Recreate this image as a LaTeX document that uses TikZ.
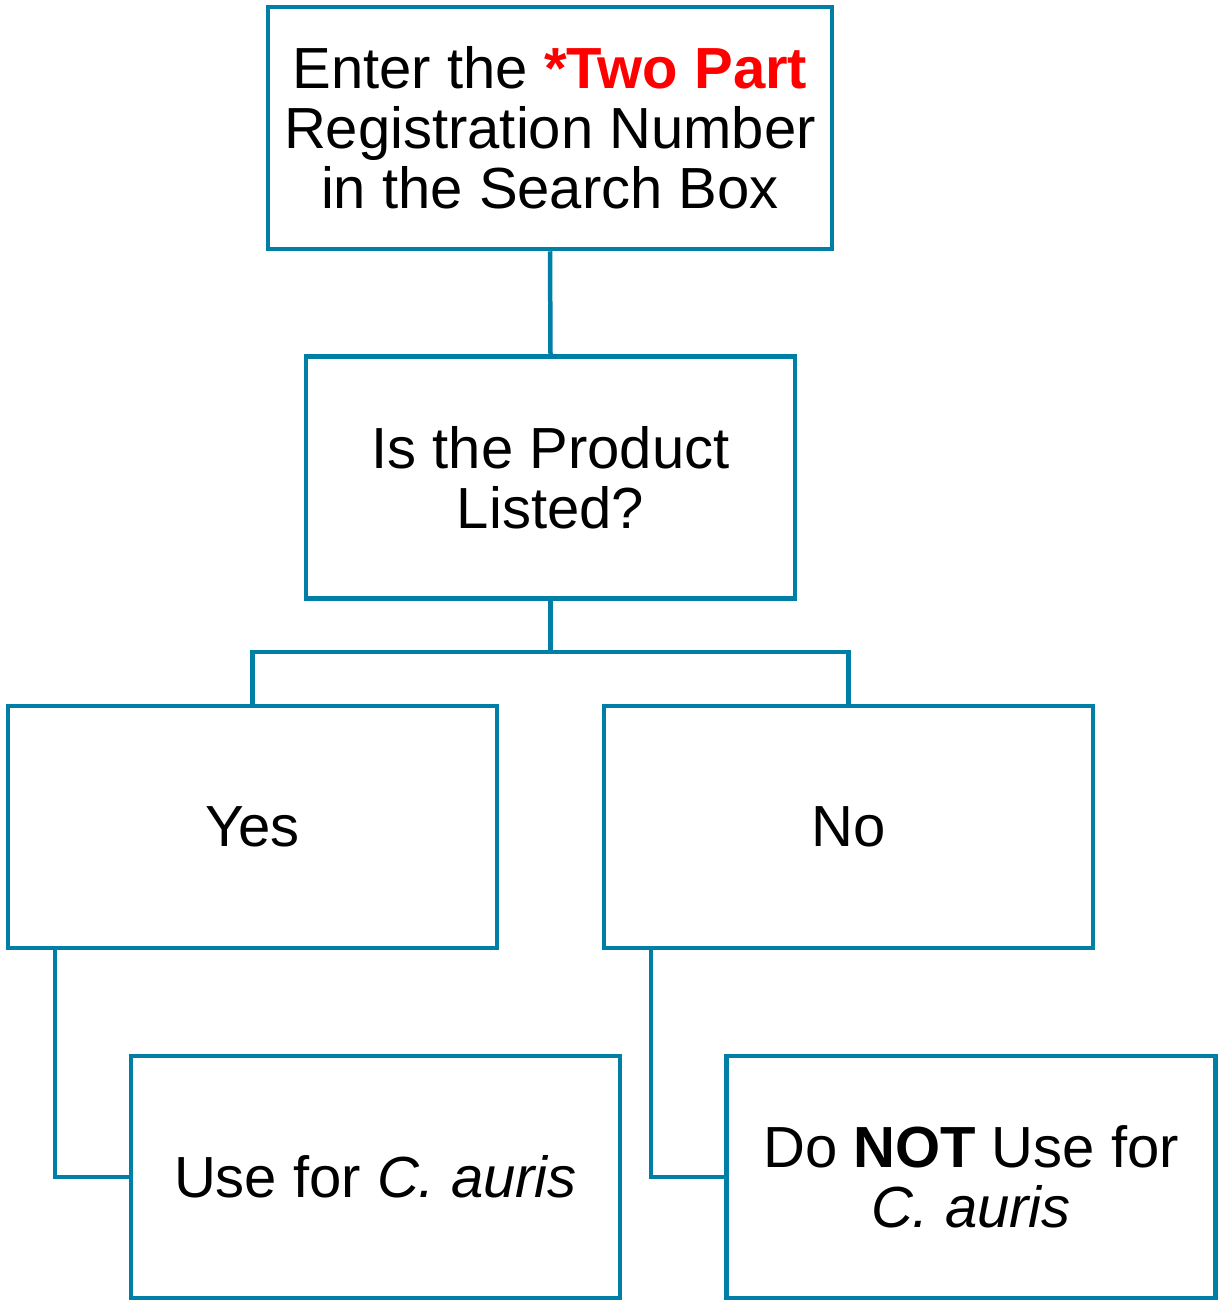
\documentclass[tikz,border=0pt]{standalone}
\usepackage{fontspec}
\setmainfont{Liberation Sans}
\definecolor{flowteal}{HTML}{007FA6}
\definecolor{flowred}{HTML}{FF0000}
\newcommand{\bigtxt}{\fontsize{58}{60}\selectfont}

\begin{document}
\begin{tikzpicture}[x=1pt,y=-1pt,
   stepbox/.style={draw=flowteal,line width=4.5pt,minimum width=489pt,minimum height=242pt,
                   align=center,font=\bigtxt,inner sep=0pt},
   link/.style={draw=flowteal,line width=4.5pt}]
   \useasboundingbox (0,0) rectangle (1219,1301);
   \node[stepbox,minimum width=564pt] (enter) at (550,128)
      {Enter the {\color{flowred}\bfseries *Two Part}\\Registration Number\\in the Search Box};
   \node[stepbox] (listed) at (550.5,477.5) {Is the Product\\Listed?};
   \node[stepbox] (yes) at (252.5,827) {Yes};
   \node[stepbox] (no)  at (848.5,827) {No};
   \node[stepbox] (use)   at (375.5,1177) {Use for \textit{C. auris}};
   \node[stepbox] (donot) at (971,1177) {Do \textbf{NOT} Use for\\\textit{C. auris}};
   % connectors
   \draw[link] (enter.south) -- (listed.north);
   \coordinate (split) at ([yshift=-51pt]listed.south);
   \draw[link] (listed.south) -- (split) -| (yes.north);
   \draw[link] (split) -| (no.north);
   \draw[link] ([xshift=49pt]yes.south west) |- (use.west);
   \draw[link] ([xshift=49pt]no.south west) |- (donot.west);
\end{tikzpicture}
\end{document}
